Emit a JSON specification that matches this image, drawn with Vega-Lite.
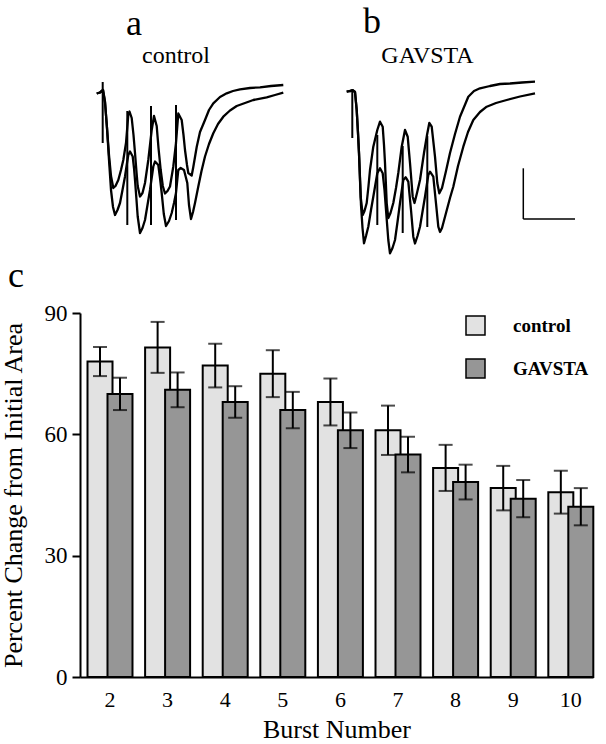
{
  "$schema": "https://vega.github.io/schema/vega-lite/v6.json",
  "padding": 0,
  "spacing": 7,
  "resolve": {"legend": {"fill": "independent"}},
  "config": {
    "view": {"stroke": null},
    "font": "Liberation Serif",
    "axis": {"labelColor": "black", "titleColor": "black", "domainColor": "black", "tickColor": "black", "grid": false, "labelFont": "Liberation Serif", "titleFont": "Liberation Serif", "titleFontWeight": "normal"},
    "legend": {"labelFont": "Liberation Serif", "labelColor": "black"}
  },
  "vconcat": [
    {
      "width": 526,
      "height": 295,
      "layer": [
        {
          "data": {"values": [
            {"trace":"a1","t":96.7,"v":93.5},{"trace":"a1","t":100,"v":92.5},{"trace":"a1","t":103,"v":90},{"trace":"a1","t":105,"v":102},{"trace":"a1","t":107,"v":128},{"trace":"a1","t":109,"v":155},{"trace":"a1","t":111,"v":176},{"trace":"a1","t":113.3,"v":188},{"trace":"a1","t":115.5,"v":186},{"trace":"a1","t":118.3,"v":180},{"trace":"a1","t":121,"v":170},{"trace":"a1","t":123.3,"v":160},{"trace":"a1","t":126,"v":143},{"trace":"a1","t":128.3,"v":115},{"trace":"a1","t":129.5,"v":111.5},{"trace":"a1","t":131.7,"v":118},{"trace":"a1","t":133.5,"v":135},{"trace":"a1","t":135,"v":153},{"trace":"a1","t":136.5,"v":172},{"trace":"a1","t":137.7,"v":186},{"trace":"a1","t":140,"v":196.5},{"trace":"a1","t":142.5,"v":193},{"trace":"a1","t":145,"v":183},{"trace":"a1","t":148.3,"v":160},{"trace":"a1","t":150,"v":145},{"trace":"a1","t":151.7,"v":130},{"trace":"a1","t":154,"v":116},{"trace":"a1","t":156.7,"v":126},{"trace":"a1","t":158.5,"v":148},{"trace":"a1","t":160.7,"v":170},{"trace":"a1","t":162.8,"v":186},{"trace":"a1","t":165,"v":193.5},{"trace":"a1","t":167.5,"v":191},{"trace":"a1","t":170,"v":186.5},{"trace":"a1","t":173.3,"v":166.5},{"trace":"a1","t":176,"v":143},{"trace":"a1","t":178.3,"v":113.5},{"trace":"a1","t":181.7,"v":120},{"trace":"a1","t":183.5,"v":135},{"trace":"a1","t":185,"v":150},{"trace":"a1","t":187,"v":165},{"trace":"a1","t":188.3,"v":173},{"trace":"a1","t":191.7,"v":175.5},{"trace":"a1","t":193.3,"v":167},{"trace":"a1","t":196.7,"v":147},{"trace":"a1","t":200,"v":132},{"trace":"a1","t":205,"v":120},{"trace":"a1","t":209,"v":110},{"trace":"a1","t":213.3,"v":103.3},{"trace":"a1","t":220,"v":97},{"trace":"a1","t":226.7,"v":93.3},{"trace":"a1","t":233,"v":91},{"trace":"a1","t":240,"v":89.3},{"trace":"a1","t":250,"v":88},{"trace":"a1","t":260,"v":87.3},{"trace":"a1","t":271,"v":86},{"trace":"a1","t":283.3,"v":85},
            {"trace":"a2","t":96.7,"v":93.5},{"trace":"a2","t":100,"v":92.5},{"trace":"a2","t":103,"v":90},{"trace":"a2","t":105,"v":102},{"trace":"a2","t":107,"v":128},{"trace":"a2","t":109,"v":160},{"trace":"a2","t":111,"v":190},{"trace":"a2","t":113,"v":207},{"trace":"a2","t":115,"v":215},{"trace":"a2","t":117.5,"v":210},{"trace":"a2","t":120,"v":203},{"trace":"a2","t":122.5,"v":190},{"trace":"a2","t":125,"v":176.5},{"trace":"a2","t":127,"v":163},{"trace":"a2","t":128.3,"v":155},{"trace":"a2","t":130,"v":151.5},{"trace":"a2","t":132.7,"v":156.5},{"trace":"a2","t":134,"v":168},{"trace":"a2","t":135,"v":180},{"trace":"a2","t":136.5,"v":200},{"trace":"a2","t":137.7,"v":216.5},{"trace":"a2","t":140,"v":233},{"trace":"a2","t":142.5,"v":228},{"trace":"a2","t":145,"v":220},{"trace":"a2","t":147.5,"v":205},{"trace":"a2","t":150,"v":190},{"trace":"a2","t":153.3,"v":166.5},{"trace":"a2","t":155,"v":161.5},{"trace":"a2","t":158.3,"v":165},{"trace":"a2","t":160,"v":178},{"trace":"a2","t":161.7,"v":193},{"trace":"a2","t":163.8,"v":214},{"trace":"a2","t":166,"v":226},{"trace":"a2","t":169,"v":221},{"trace":"a2","t":171.7,"v":213},{"trace":"a2","t":174,"v":203},{"trace":"a2","t":176,"v":193},{"trace":"a2","t":178.3,"v":170},{"trace":"a2","t":180.7,"v":168},{"trace":"a2","t":184,"v":170},{"trace":"a2","t":187.3,"v":183},{"trace":"a2","t":189,"v":205},{"trace":"a2","t":191,"v":219},{"trace":"a2","t":193,"v":212},{"trace":"a2","t":195,"v":203},{"trace":"a2","t":198.3,"v":186.5},{"trace":"a2","t":201.5,"v":171},{"trace":"a2","t":205,"v":156.5},{"trace":"a2","t":209,"v":144},{"trace":"a2","t":213.3,"v":133.3},{"trace":"a2","t":218,"v":124},{"trace":"a2","t":223.3,"v":116.7},{"trace":"a2","t":230,"v":110.5},{"trace":"a2","t":236.7,"v":106},{"trace":"a2","t":245,"v":103},{"trace":"a2","t":253.3,"v":100},{"trace":"a2","t":266.7,"v":97.3},{"trace":"a2","t":275,"v":95},{"trace":"a2","t":283.3,"v":92.7},
            {"trace":"b1","t":346.7,"v":91.7},{"trace":"b1","t":350,"v":91},{"trace":"b1","t":353,"v":90.5},{"trace":"b1","t":355,"v":92},{"trace":"b1","t":356.7,"v":110},{"trace":"b1","t":358,"v":133},{"trace":"b1","t":359,"v":153},{"trace":"b1","t":360,"v":178},{"trace":"b1","t":360.7,"v":197},{"trace":"b1","t":362.7,"v":215},{"trace":"b1","t":364.5,"v":211},{"trace":"b1","t":366.7,"v":203},{"trace":"b1","t":368.5,"v":186},{"trace":"b1","t":370,"v":170},{"trace":"b1","t":373.3,"v":146.7},{"trace":"b1","t":377.3,"v":130},{"trace":"b1","t":380,"v":121.7},{"trace":"b1","t":382.7,"v":126.7},{"trace":"b1","t":384,"v":145},{"trace":"b1","t":385,"v":163},{"trace":"b1","t":386.7,"v":203},{"trace":"b1","t":388.3,"v":218},{"trace":"b1","t":390.5,"v":213},{"trace":"b1","t":393.3,"v":203},{"trace":"b1","t":396,"v":188},{"trace":"b1","t":398.3,"v":173},{"trace":"b1","t":401.7,"v":146.7},{"trace":"b1","t":405,"v":130},{"trace":"b1","t":407.7,"v":136.7},{"trace":"b1","t":410,"v":163},{"trace":"b1","t":412.7,"v":196.7},{"trace":"b1","t":414.5,"v":203},{"trace":"b1","t":417,"v":193},{"trace":"b1","t":420,"v":180},{"trace":"b1","t":424,"v":153},{"trace":"b1","t":427,"v":135},{"trace":"b1","t":429.3,"v":123},{"trace":"b1","t":431.7,"v":126.7},{"trace":"b1","t":435,"v":156.7},{"trace":"b1","t":437.3,"v":183},{"trace":"b1","t":439.3,"v":193.3},{"trace":"b1","t":442,"v":188},{"trace":"b1","t":446,"v":171},{"trace":"b1","t":450,"v":153},{"trace":"b1","t":455,"v":134},{"trace":"b1","t":460,"v":116.7},{"trace":"b1","t":468.3,"v":96.7},{"trace":"b1","t":474,"v":91},{"trace":"b1","t":480,"v":88.3},{"trace":"b1","t":490,"v":86},{"trace":"b1","t":500,"v":84},{"trace":"b1","t":510,"v":83.5},{"trace":"b1","t":522,"v":82.5},{"trace":"b1","t":535,"v":81.7},
            {"trace":"b2","t":346.7,"v":91.7},{"trace":"b2","t":350,"v":91},{"trace":"b2","t":353,"v":90.5},{"trace":"b2","t":355,"v":92},{"trace":"b2","t":356.7,"v":110},{"trace":"b2","t":358,"v":133},{"trace":"b2","t":359,"v":153},{"trace":"b2","t":360,"v":180},{"trace":"b2","t":361,"v":205},{"trace":"b2","t":362.5,"v":228},{"trace":"b2","t":364,"v":243.3},{"trace":"b2","t":366,"v":236},{"trace":"b2","t":368.3,"v":226.7},{"trace":"b2","t":371,"v":210},{"trace":"b2","t":373.3,"v":196.7},{"trace":"b2","t":377.3,"v":173.3},{"trace":"b2","t":380,"v":168.3},{"trace":"b2","t":382.7,"v":173.3},{"trace":"b2","t":384.5,"v":190},{"trace":"b2","t":386,"v":210},{"trace":"b2","t":388.3,"v":240},{"trace":"b2","t":390,"v":253.3},{"trace":"b2","t":392.5,"v":248},{"trace":"b2","t":395,"v":240},{"trace":"b2","t":397.5,"v":222},{"trace":"b2","t":400,"v":203},{"trace":"b2","t":403.3,"v":180},{"trace":"b2","t":405.7,"v":177.3},{"trace":"b2","t":408.3,"v":181.7},{"trace":"b2","t":411,"v":210},{"trace":"b2","t":413.3,"v":236.7},{"trace":"b2","t":415,"v":243.5},{"trace":"b2","t":417.5,"v":236},{"trace":"b2","t":420,"v":226.7},{"trace":"b2","t":425,"v":196.7},{"trace":"b2","t":428.3,"v":175},{"trace":"b2","t":430,"v":171.7},{"trace":"b2","t":433.3,"v":176.7},{"trace":"b2","t":436,"v":203.3},{"trace":"b2","t":438.3,"v":226.7},{"trace":"b2","t":440,"v":232},{"trace":"b2","t":442,"v":228},{"trace":"b2","t":446,"v":213},{"trace":"b2","t":450,"v":198},{"trace":"b2","t":453.3,"v":186.7},{"trace":"b2","t":458,"v":166},{"trace":"b2","t":463.3,"v":146.7},{"trace":"b2","t":468,"v":132},{"trace":"b2","t":473.3,"v":120},{"trace":"b2","t":480,"v":112},{"trace":"b2","t":486.7,"v":106.7},{"trace":"b2","t":496,"v":103},{"trace":"b2","t":506.7,"v":100},{"trace":"b2","t":520,"v":96.5},{"trace":"b2","t":535,"v":93.3}
          ]},
          "mark": {"type": "line", "color": "black", "strokeWidth": 2.3, "strokeJoin": "round"},
          "encoding": {
            "x": {"field": "t", "type": "quantitative", "scale": {"domain": [80, 606], "nice": false, "zero": false}, "axis": null},
            "y": {"field": "v", "type": "quantitative", "scale": {"domain": [0, 295], "nice": false, "reverse": true}, "axis": null},
            "detail": {"field": "trace"}
          }
        },
        {
          "data": {"values": [
            {"t": 102.7, "v": 82, "v2": 143},
            {"t": 127.3, "v": 111, "v2": 225},
            {"t": 151, "v": 106, "v2": 225},
            {"t": 176, "v": 105, "v2": 220},
            {"t": 352.3, "v": 89, "v2": 138},
            {"t": 377.3, "v": 135, "v2": 225},
            {"t": 402.7, "v": 146, "v2": 233},
            {"t": 427.3, "v": 136, "v2": 227}
          ]},
          "mark": {"type": "rule", "color": "black", "strokeWidth": 2},
          "encoding": {
            "x": {"field": "t", "type": "quantitative"},
            "y": {"field": "v", "type": "quantitative"},
            "y2": {"field": "v2"}
          }
        },
        {
          "data": {"values": [
            {"t": 523.3, "t2": 523.3, "v": 168.3, "v2": 219},
            {"t": 523.3, "t2": 575, "v": 219, "v2": 219}
          ]},
          "mark": {"type": "rule", "color": "black", "strokeWidth": 1.5},
          "encoding": {
            "x": {"field": "t", "type": "quantitative"},
            "x2": {"field": "t2"},
            "y": {"field": "v", "type": "quantitative"},
            "y2": {"field": "v2"}
          }
        },
        {
          "data": {"values": [
            {"t": 134, "v": 35, "label": "a"},
            {"t": 372, "v": 33.3, "label": "b"},
            {"t": 16, "v": 286.7, "label": "c"}
          ]},
          "mark": {"type": "text", "fontSize": 36, "font": "Liberation Serif", "baseline": "alphabetic", "align": "center", "color": "black"},
          "encoding": {
            "x": {"field": "t", "type": "quantitative"},
            "y": {"field": "v", "type": "quantitative"},
            "text": {"field": "label"}
          }
        },
        {
          "data": {"values": [
            {"t": 176, "v": 63, "label": "control"},
            {"t": 427.5, "v": 63, "label": "GAVSTA"}
          ]},
          "mark": {"type": "text", "fontSize": 24, "font": "Liberation Serif", "baseline": "alphabetic", "align": "center", "color": "black"},
          "encoding": {
            "x": {"field": "t", "type": "quantitative"},
            "y": {"field": "v", "type": "quantitative"},
            "text": {"field": "label"}
          }
        }
      ]
    },
    {
      "width": 513,
      "height": 364,
      "data": {"values": [
        {"burst": 2, "group": "control", "mean": 78.0, "lo": 74.4, "hi": 81.6},
        {"burst": 2, "group": "GAVSTA", "mean": 70.0, "lo": 66.0, "hi": 74.0},
        {"burst": 3, "group": "control", "mean": 81.5, "lo": 75.2, "hi": 87.8},
        {"burst": 3, "group": "GAVSTA", "mean": 71.0, "lo": 66.7, "hi": 75.3},
        {"burst": 4, "group": "control", "mean": 77.0, "lo": 71.6, "hi": 82.4},
        {"burst": 4, "group": "GAVSTA", "mean": 68.0, "lo": 64.1, "hi": 71.9},
        {"burst": 5, "group": "control", "mean": 75.0, "lo": 69.2, "hi": 80.8},
        {"burst": 5, "group": "GAVSTA", "mean": 66.0, "lo": 61.5, "hi": 70.5},
        {"burst": 6, "group": "control", "mean": 68.0, "lo": 62.2, "hi": 73.8},
        {"burst": 6, "group": "GAVSTA", "mean": 61.0, "lo": 56.6, "hi": 65.4},
        {"burst": 7, "group": "control", "mean": 61.0, "lo": 54.9, "hi": 67.1},
        {"burst": 7, "group": "GAVSTA", "mean": 55.0, "lo": 50.6, "hi": 59.4},
        {"burst": 8, "group": "control", "mean": 51.7, "lo": 46.0, "hi": 57.4},
        {"burst": 8, "group": "GAVSTA", "mean": 48.2, "lo": 43.9, "hi": 52.5},
        {"burst": 9, "group": "control", "mean": 46.7, "lo": 41.2, "hi": 52.2},
        {"burst": 9, "group": "GAVSTA", "mean": 44.1, "lo": 39.5, "hi": 48.7},
        {"burst": 10, "group": "control", "mean": 45.7, "lo": 40.4, "hi": 51.0},
        {"burst": 10, "group": "GAVSTA", "mean": 42.1, "lo": 37.5, "hi": 46.7}
      ]},
      "encoding": {
        "x": {
          "field": "burst", "type": "ordinal", "title": "Burst Number",
          "scale": {"paddingInner": 0.306, "paddingOuter": 0.106, "align": 0.82, "round": false},
          "axis": {"labelAngle": 0, "ticks": false, "labelFontSize": 22, "labelPadding": 12, "titleFontSize": 26, "titlePadding": 6, "domainWidth": 2}
        },
        "xOffset": {"field": "group", "type": "nominal", "sort": ["control", "GAVSTA"], "scale": {"paddingInner": 0, "paddingOuter": 0}}
      },
      "layer": [
        {
          "mark": {"type": "bar", "width": 25, "stroke": "black", "strokeWidth": 2},
          "encoding": {
            "y": {
              "field": "mean", "type": "quantitative", "title": "Percent Change from Initial Area",
              "scale": {"domain": [0, 90], "nice": false},
              "axis": {"values": [0, 30, 60, 90], "tickSize": 8, "tickWidth": 2, "domainWidth": 2, "labelFontSize": 23, "labelPadding": 5, "titleFontSize": 26, "titlePadding": 18}
            },
            "fill": {
              "field": "group", "type": "nominal", "sort": ["control", "GAVSTA"],
              "scale": {"domain": ["control", "GAVSTA"], "range": ["#e2e2e2", "#969696"]},
              "legend": {"title": null, "orient": "none", "legendX": 385, "legendY": 2, "padding": 0, "symbolType": "square", "symbolSize": 361, "symbolStrokeColor": "black", "symbolStrokeWidth": 1.5, "labelFontSize": 19, "labelFontWeight": "bold", "labelOffset": 27, "rowPadding": 18}
            }
          }
        },
        {
          "mark": {"type": "rule", "color": "black", "strokeWidth": 2},
          "encoding": {
            "y": {"field": "lo", "type": "quantitative"},
            "y2": {"field": "hi"}
          }
        },
        {
          "mark": {"type": "tick", "color": "black", "thickness": 2, "size": 14},
          "encoding": {"y": {"field": "hi", "type": "quantitative"}}
        },
        {
          "mark": {"type": "tick", "color": "black", "thickness": 2, "size": 14},
          "encoding": {"y": {"field": "lo", "type": "quantitative"}}
        }
      ]
    }
  ]
}
